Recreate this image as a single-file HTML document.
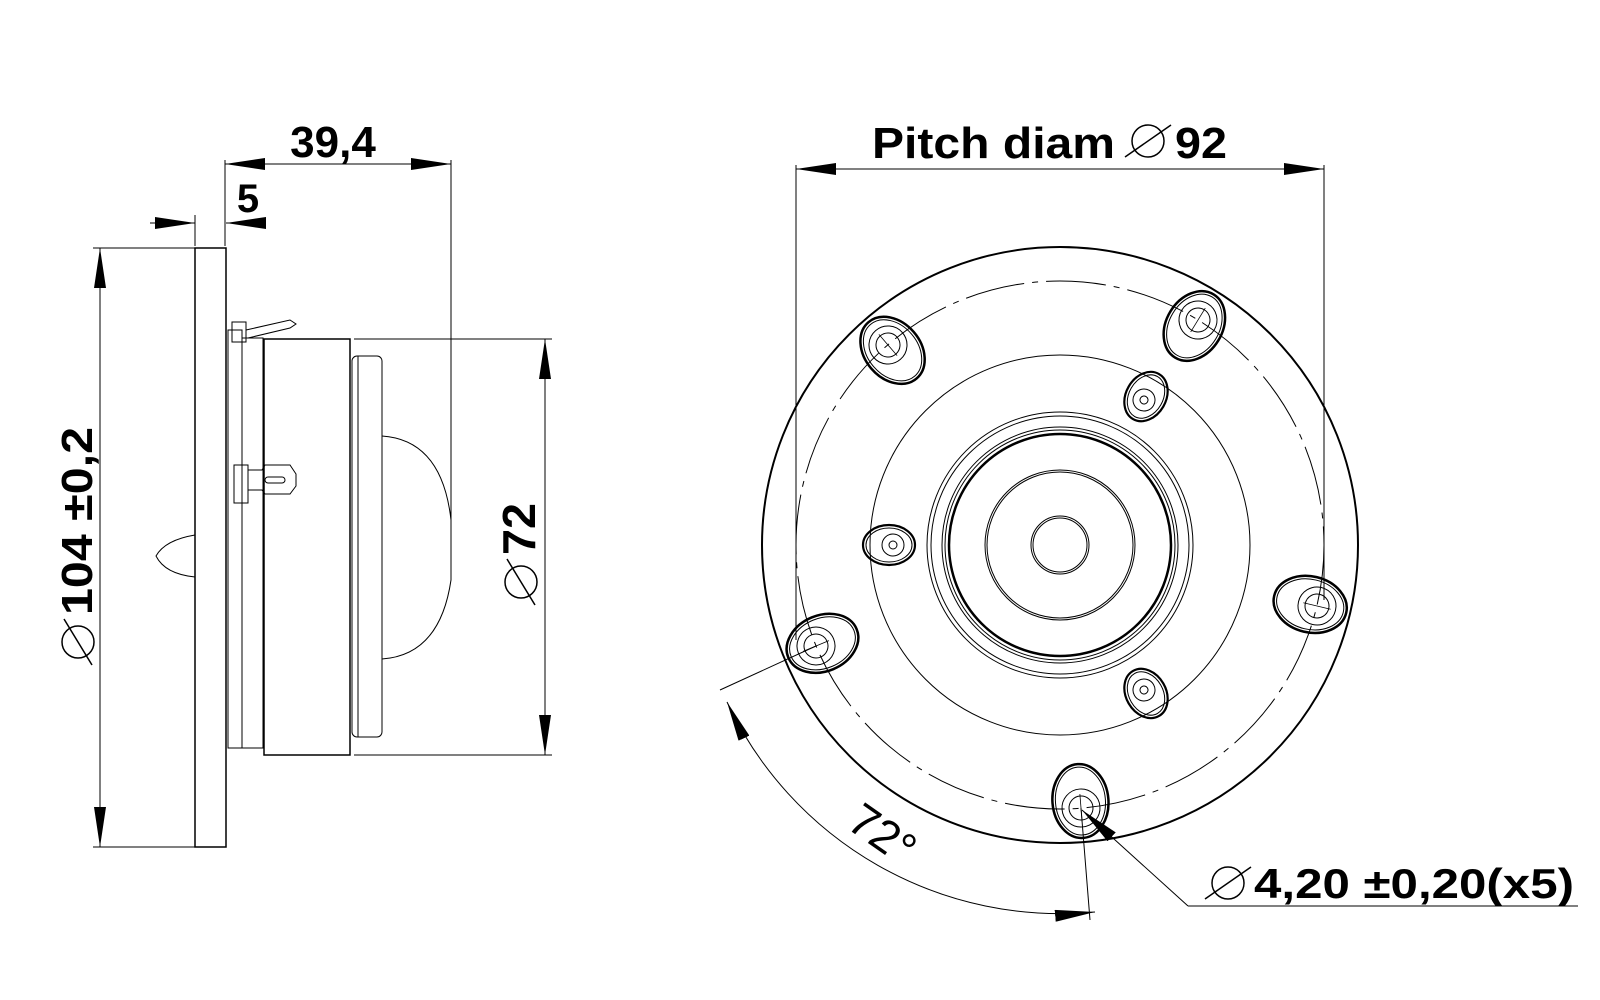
<!DOCTYPE html>
<html><head><meta charset="utf-8"><style>
html,body{margin:0;padding:0;background:#fff;}
svg{display:block;}
text{font-family:"Liberation Sans",sans-serif;font-weight:bold;fill:#000;}
</style></head><body>
<svg width="1600" height="1000" viewBox="0 0 1600 1000" xmlns="http://www.w3.org/2000/svg">
<defs>
<marker id="ar" markerWidth="40" markerHeight="12" refX="40" refY="6" orient="auto-start-reverse" markerUnits="userSpaceOnUse">
<path d="M0,0 L40,6 L0,12 Z" fill="#000"/></marker>
<g id="hole">
<ellipse cx="-7" cy="0" rx="37" ry="28" fill="none" stroke="#000" stroke-width="2.5"/>
<ellipse cx="-7" cy="0" rx="34" ry="25" fill="none" stroke="#000" stroke-width="1"/>
<circle r="19" fill="none" stroke="#000" stroke-width="1"/>
<circle r="12" fill="none" stroke="#000" stroke-width="1"/>
<line x1="-14" y1="0" x2="14" y2="0" stroke="#000" stroke-width="0.8"/>
</g>
<g id="screw">
<ellipse cx="4" cy="0" rx="26" ry="20" fill="none" stroke="#000" stroke-width="2.2"/>
<ellipse cx="4" cy="0" rx="23" ry="17" fill="none" stroke="#000" stroke-width="1"/>
<circle r="11" fill="none" stroke="#000" stroke-width="1"/>
<circle r="4" fill="none" stroke="#000" stroke-width="1"/>
</g>
</defs>
<g fill="none" stroke="#000" stroke-width="1">
<!-- LEFT VIEW -->
<rect x="195" y="248" width="31" height="599" stroke-width="1.5"/>
<path d="M195,535 Q165,540 156,556 Q165,574 195,577" />
<rect x="228" y="330" width="14" height="418"/>
<rect x="242" y="338" width="21" height="410"/>
<rect x="232" y="322" width="14" height="20"/>
<path d="M246,330 L290,320 L296,324 L290,328 L248,338"/>
<rect x="234" y="465" width="14" height="38"/>
<path d="M248,470 L262,470 L265,465 L290,465 L296,474 L296,486 L290,494 L265,494 L262,490 L248,490"/>
<rect x="265" y="477" width="20" height="6" rx="3"/>
<rect x="264" y="339" width="86" height="416" stroke-width="1.5"/>
<rect x="352" y="356" width="30" height="381" rx="5"/>
<line x1="358" y1="356" x2="358" y2="737"/>
<path d="M382,436 Q442,440 451,520 L451,580 Q440,655 382,659"/>
<!-- dims left -->
<line x1="100" y1="248" x2="100" y2="847" marker-start="url(#ar)" marker-end="url(#ar)"/>
<line x1="93" y1="248" x2="195" y2="248"/>
<line x1="93" y1="847" x2="195" y2="847"/>
<line x1="545" y1="339" x2="545" y2="755" marker-start="url(#ar)" marker-end="url(#ar)"/>
<line x1="354" y1="339" x2="552" y2="339"/>
<line x1="354" y1="755" x2="552" y2="755"/>
<line x1="225" y1="160" x2="225" y2="246"/>
<line x1="451" y1="160" x2="451" y2="520"/>
<line x1="225" y1="164" x2="451" y2="164" marker-start="url(#ar)" marker-end="url(#ar)"/>
<line x1="195" y1="215" x2="195" y2="246"/>
<line x1="150" y1="223" x2="195" y2="223" marker-end="url(#ar)"/>
<line x1="258" y1="223" x2="226" y2="223" marker-end="url(#ar)"/>
<!-- RIGHT VIEW -->
<circle cx="1060" cy="545" r="298" stroke-width="2"/>
<circle cx="1060" cy="545" r="264" stroke-dasharray="60,8,6,8"/>
<circle cx="1060" cy="545" r="190"/>
<circle cx="1060" cy="545" r="133"/>
<circle cx="1060" cy="545" r="129"/>
<circle cx="1060" cy="545" r="118"/>
<circle cx="1060" cy="545" r="115"/>
<circle cx="1060" cy="545" r="111" stroke-width="2.5"/>
<circle cx="1060" cy="545" r="75"/>
<circle cx="1060" cy="545" r="73"/>
<circle cx="1060" cy="545" r="29"/>
<circle cx="1060" cy="545" r="27"/>
<line x1="796" y1="165" x2="796" y2="640"/>
<line x1="1324" y1="165" x2="1324" y2="600"/>
<line x1="796" y1="169" x2="1324" y2="169" marker-start="url(#ar)" marker-end="url(#ar)"/>
<line x1="816" y1="646" x2="720" y2="690"/>
<line x1="1081" y1="808" x2="1090" y2="920"/>
<path d="M727,702 A368,368 0 0 0 1095,912" marker-start="url(#ar)" marker-end="url(#ar)"/>
<polyline points="1188,906 1578,906"/>
<line x1="1188" y1="906" x2="1082" y2="810" marker-end="url(#ar)"/>
</g>
<g>
<use href="#hole" transform="translate(1081,808) rotate(85.4)"/>
<use href="#hole" transform="translate(816,646) rotate(157.4)"/>
<use href="#hole" transform="translate(888,345) rotate(229.4)"/>
<use href="#hole" transform="translate(1198,320) rotate(301.4)"/>
<use href="#hole" transform="translate(1317,606) rotate(13.4)"/>
<use href="#screw" transform="translate(1144,400) rotate(-60)"/>
<use href="#screw" transform="translate(893,545) rotate(180)"/>
<use href="#screw" transform="translate(1144,690) rotate(60)"/>
</g>
<!-- texts -->
<text x="333" y="157" font-size="44" text-anchor="middle">39,4</text>
<text x="248" y="212" font-size="40" text-anchor="middle">5</text>
<g transform="translate(92,547) rotate(-90)">
<circle cx="-95" cy="-14" r="16" fill="none" stroke="#000" stroke-width="1.5"/>
<line x1="-118" y1="0" x2="-72" y2="-28" stroke="#000" stroke-width="1.5"/>
<text x="-68" y="0" font-size="44" textLength="188" lengthAdjust="spacingAndGlyphs">104 ±0,2</text>
</g>
<g transform="translate(535,547) rotate(-90)">
<circle cx="-35" cy="-14" r="16" fill="none" stroke="#000" stroke-width="1.5"/>
<line x1="-58" y1="0" x2="-12" y2="-28" stroke="#000" stroke-width="1.5"/>
<text x="-8" y="0" font-size="46" textLength="52" lengthAdjust="spacingAndGlyphs">72</text>
</g>
<text x="872" y="158" font-size="44" textLength="243" lengthAdjust="spacingAndGlyphs">Pitch diam</text>
<circle cx="1148" cy="141" r="16" fill="none" stroke="#000" stroke-width="1.5"/>
<line x1="1125" y1="157" x2="1171" y2="125" stroke="#000" stroke-width="1.5"/>
<text x="1175" y="158" font-size="44" textLength="52" lengthAdjust="spacingAndGlyphs">92</text>
<g transform="translate(845,827) rotate(35)">
<text x="0" y="0" font-size="46" style="font-weight:normal">72°</text>
</g>
<circle cx="1228" cy="883" r="16" fill="none" stroke="#000" stroke-width="1.5"/>
<line x1="1205" y1="899" x2="1251" y2="867" stroke="#000" stroke-width="1.5"/>
<text x="1254" y="898" font-size="42" textLength="320" lengthAdjust="spacingAndGlyphs">4,20 ±0,20(x5)</text>
</svg>
</body></html>
